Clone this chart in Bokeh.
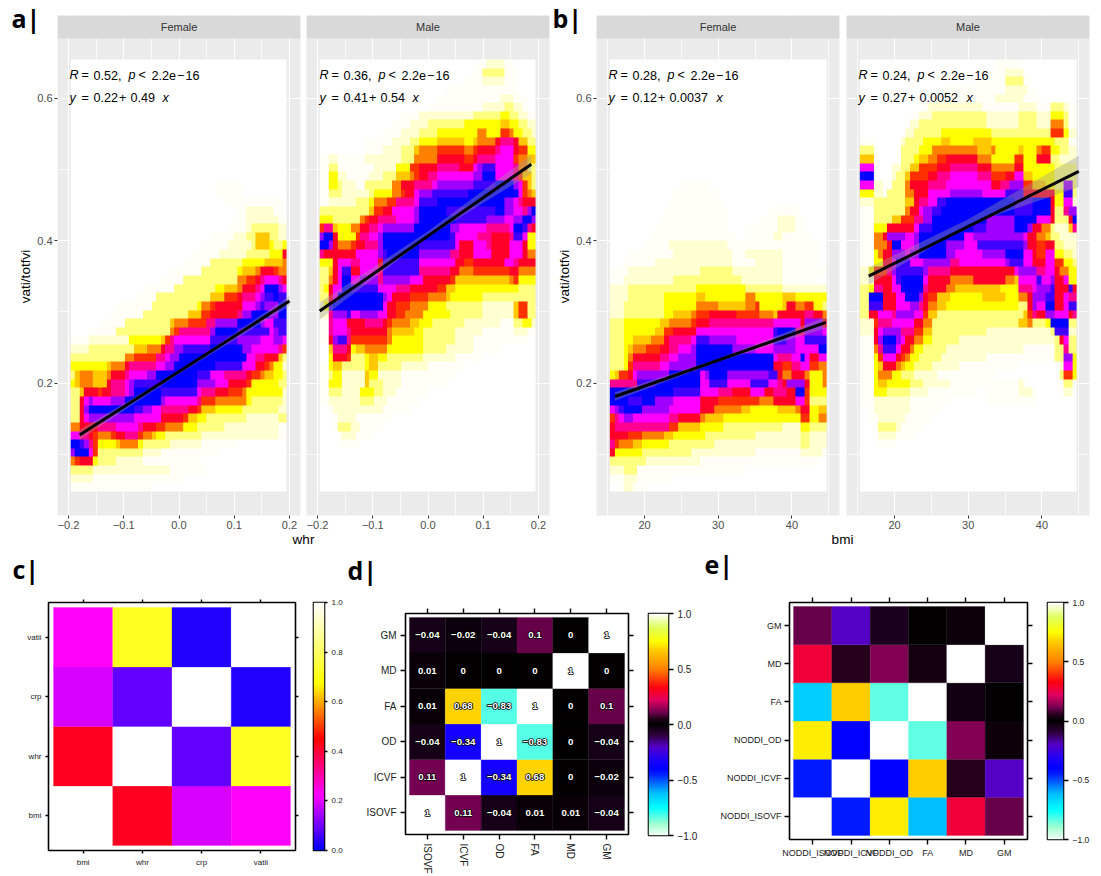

import numpy as np
from math import pi
from bokeh.plotting import figure
from bokeh.layouts import row, column
from bokeh.models import (Range1d, FixedTicker, LinearAxis, LinearColorMapper, Label,
                          BoxAnnotation, ColumnDataSource)
from bokeh.transform import transform
from bokeh.core.properties import value
from bokeh.embed import file_html
from bokeh.resources import INLINE

# ------- density levels of the four panels, read row by row (top to bottom): level:end column ------
WHR_F = ["0:48"]*14 + [
"0:32 1:38 0:48","0:32 1:38 0:48","0:34 1:47 0:48","0:37 1:39 2:45 1:47 0:48","0:36 1:39 2:46 1:48",
"0:35 1:39 2:40 3:46 2:48","0:31 1:36 2:39 3:41 5:44 3:46 2:48","0:29 1:35 2:40 3:41 5:44 4:45 3:47 4:48",
"0:27 1:33 2:39 3:44 4:47 8:48","0:25 1:31 3:38 4:43 5:47 6:48",
"0:22 1:29 3:37 4:38 5:41 6:42 8:45 7:46 6:48","0:20 1:25 3:37 6:39 7:41 8:42 9:43 a:46 9:47 8:48",
"0:16 1:23 3:32 4:34 5:37 6:38 8:41 9:42 a:43 d:46 b:47 a:48","0:14 1:19 3:31 5:34 7:37 8:38 9:41 a:42 b:43 c:45 d:46 c:48",
"0:10 1:18 3:28 4:29 6:31 7:32 8:38 a:41 b:42 c:43 b:46 d:48","0:9 1:16 3:26 5:29 7:31 8:37 9:38 b:40 d:44 b:46 d:48",
"0:7 1:12 3:22 5:23 6:26 7:30 9:32 b:37 d:42 b:43 a:45 c:48","0:4 1:10 3:22 6:23 7:24 9:31 b:32 d:37 c:44 a:45 b:46 c:48",
"1:4 2:13 4:20 5:21 7:22 9:23 a:31 c:37 b:42 a:45 b:47 a:48","2:4 3:14 5:17 6:20 8:21 9:23 b:25 c:31 d:38 b:40 a:46 9:47 7:48",
"3:12 6:14 7:19 9:21 a:22 b:24 d:39 a:41 9:43 8:46 5:47 3:48","4:8 5:9 6:12 8:13 9:19 a:21 b:23 d:32 c:38 a:41 8:43 7:44 6:45 4:47 2:48",
"3:1 5:2 6:5 5:8 6:9 8:12 9:13 a:17 b:19 d:28 c:31 a:34 9:39 8:40 7:42 6:43 5:45 4:47 3:48",
"4:1 5:2 6:5 5:8 8:9 9:12 a:13 b:14 c:20 d:28 b:32 a:35 8:39 7:40 4:46 3:48",
"3:2 5:3 8:6 7:7 8:9 9:12 a:13 b:14 d:20 c:28 a:29 9:32 8:35 7:38 6:39 4:47 2:48",
"3:2 8:3 a:4 b:5 a:9 b:12 d:20 b:21 a:28 9:29 7:32 6:39 4:40 3:47 2:48",
"3:2 8:3 b:4 d:14 c:16 b:18 a:20 9:26 8:28 7:29 5:32 4:38 3:46 2:48",
"3:2 8:3 a:4 b:14 a:20 8:25 7:26 5:28 4:30 3:39 2:46 3:48",
"6:2 8:6 9:10 a:15 9:16 8:19 7:21 6:25 4:28 3:34 2:46 1:48",
"a:2 9:4 8:5 7:6 6:9 7:10 8:12 9:15 7:16 6:18 5:19 4:21 3:29 2:46 1:48",
"d:2 c:3 b:4 9:5 7:6 4:10 5:11 6:15 4:16 3:22 2:29 1:37 0:48","b:1 d:4 a:5 7:6 3:16 2:20 1:33 0:48",
"6:1 7:2 8:5 4:6 3:10 2:16 1:29 0:48","3:5 2:22 1:30 0:48","2:5 1:25 0:48","1:18 0:48"]

WHR_M = [
"0:35 1:37 2:41 1:43 0:48","0:34 1:36 3:41 1:44 0:48","0:32 1:36 2:41 1:44 0:48","0:28 1:44 0:48","0:26 1:40 2:43 1:46 0:48",
"0:24 1:36 2:41 3:43 2:45 1:46 0:48","0:18 1:22 2:34 3:40 4:42 3:44 2:46 1:48","0:16 1:20 2:24 3:32 4:40 5:42 4:44 3:46 2:48",
"0:14 1:18 2:22 3:26 4:35 6:37 4:40 7:42 6:43 4:45 3:47 2:48","0:10 1:16 2:20 3:22 4:26 5:32 4:34 5:35 6:39 8:40 9:43 8:44 5:46 3:48",
"0:10 1:14 2:18 3:21 5:22 6:26 7:32 6:34 7:35 8:39 9:40 a:43 8:44 7:46 4:48","1:2 2:4 1:10 2:18 3:21 6:26 8:32 7:34 8:35 9:39 a:43 7:44 6:46 5:48",
"1:2 3:4 1:12 2:17 4:20 7:22 8:26 9:31 8:34 a:35 b:36 c:39 a:43 9:44 6:46 3:48","1:2 4:4 2:6 1:11 2:14 3:17 5:20 6:21 7:22 8:24 9:26 a:34 b:36 d:39 a:43 9:44 7:45 5:47 3:48",
"1:2 4:4 3:5 2:8 1:10 3:16 6:18 8:21 9:25 a:26 b:34 c:39 d:43 b:44 a:45 7:46 5:47 3:48","1:2 3:5 2:11 3:12 4:16 6:18 7:19 8:21 a:22 b:25 c:33 d:44 a:45 7:46 6:47 5:48",
"1:2 2:8 3:11 4:12 6:15 7:17 9:21 a:22 c:26 d:41 b:43 a:44 9:45 8:48","3:11 5:12 7:14 8:16 a:21 b:22 d:28 c:39 d:41 b:43 a:45 9:46 b:47 d:48",
"4:3 3:9 6:10 7:11 8:13 9:17 a:21 b:22 d:30 c:37 b:41 a:43 b:45 d:47 b:48","7:1 9:3 5:4 4:7 6:9 8:11 9:13 a:14 b:21 d:29 b:31 a:37 9:42 a:43 d:45 c:46 9:47 8:48",
"b:1 d:3 8:4 4:8 7:9 9:11 a:13 b:14 d:29 c:30 a:35 9:38 8:42 9:43 c:45 a:46 4:48","d:2 b:3 8:4 6:7 7:8 8:10 9:13 b:14 d:22 c:30 a:31 8:34 a:37 9:38 8:42 a:45 8:46 4:48",
"9:1 8:8 a:13 b:14 c:15 d:22 b:29 9:31 8:34 a:38 8:42 a:45 8:46 6:48","4:3 8:4 a:7 9:9 a:13 8:14 c:22 a:30 8:32 7:34 8:41 a:43 9:44 8:48",
"3:2 5:3 8:4 a:5 c:7 8:9 a:13 9:14 c:22 9:29 8:31 6:34 7:42 8:44 6:48","3:2 6:3 8:4 a:5 d:7 a:9 b:13 9:14 b:20 a:23 8:29 7:30 5:42 6:43 7:44 4:48",
"3:1 4:2 8:3 a:5 d:7 c:13 a:17 9:20 8:26 7:28 5:30 4:44 3:48","3:2 8:3 a:4 d:14 b:15 a:16 8:20 7:24 6:28 5:29 4:36 3:48",
"2:1 4:2 c:3 d:14 a:15 8:17 7:20 6:24 4:28 3:36 2:43 5:44 7:46 3:48","2:2 9:3 b:6 c:7 a:9 b:13 a:15 8:17 7:19 6:23 4:29 3:36 2:43 5:44 7:46 3:48",
"1:2 9:3 a:6 8:10 9:14 8:15 7:16 6:20 5:22 4:25 3:32 2:40 1:43 3:45 4:47 2:48","1:2 9:3 a:6 9:7 8:15 6:16 5:21 4:23 3:30 2:36 1:43 2:46 1:48",
"1:2 8:3 b:4 c:6 9:7 7:15 6:16 4:23 3:30 2:34 1:46 0:48","0:2 5:3 9:6 8:7 4:8 5:10 6:15 4:23 3:28 2:34 1:40 0:48",
"0:2 4:3 8:6 7:7 3:10 4:11 5:13 4:15 3:23 2:30 1:36 0:48","1:2 4:3 5:5 3:10 4:11 5:13 3:18 2:24 1:32 0:48",
"1:2 3:3 4:5 2:10 5:11 4:13 2:18 1:30 0:48","1:2 4:5 2:10 5:11 3:14 2:18 1:28 0:48","1:2 3:5 2:9 4:12 3:14 2:17 1:24 0:48",
"1:2 2:9 3:12 2:15 1:22 0:48","0:2 1:3 2:14 1:20 0:48","0:3 1:4 2:8 1:16 0:48","0:3 1:4 3:7 2:9 1:14 0:48","0:4 1:5 2:8 1:12 0:48","0:4 1:9 0:48",
"0:48","0:48","0:48","0:48","0:48"]

BMI_F = ["0:48"]*14 + [
"0:16 1:22 0:48","0:14 1:24 0:48","0:13 1:25 0:48","0:12 1:26 0:35 1:42 0:48","0:11 1:26 0:33 1:37 2:41 1:43 0:48",
"0:10 1:26 0:30 1:37 2:41 1:43 0:48","0:9 1:28 0:30 1:36 2:38 1:44 0:48","0:8 1:13 2:26 1:46 0:48","0:4 1:14 2:27 1:30 2:38 1:46 0:48",
"0:3 1:10 2:27 1:32 2:38 1:46 0:48","1:4 2:20 3:27 2:38 1:48","1:3 2:14 3:29 2:38 1:46 0:48","2:4 3:19 4:30 3:38 2:48",
"2:4 3:12 4:19 5:21 4:30 6:32 4:38 5:41 4:48","2:3 3:12 4:19 6:24 5:30 6:32 7:33 4:38 5:39 8:41 6:43 7:45 4:47 3:48",
"2:3 3:12 4:14 5:18 6:19 7:22 8:28 7:33 6:36 5:37 8:43 9:45 8:47 6:48","3:3 4:11 5:13 6:18 7:19 8:22 9:36 a:42 8:43 b:47 8:48",
"3:3 4:10 5:12 7:14 8:19 a:36 c:37 d:41 9:43 b:47 a:48","3:3 4:5 5:9 6:12 8:13 9:18 a:19 c:22 b:28 a:36 c:39 b:41 a:43 c:48",
"3:3 4:4 5:5 6:8 7:11 8:13 9:15 a:18 b:19 d:27 b:32 a:36 b:41 a:46 d:48","3:3 4:4 6:5 8:11 9:13 a:15 b:19 d:36 a:37 9:40 a:42 d:43 a:44 8:46 a:48",
"3:3 4:4 7:5 9:11 a:13 b:19 d:36 8:38 7:40 9:42 a:44 7:46 6:48","4:1 5:2 7:4 8:5 a:6 b:13 d:20 a:21 b:22 d:26 b:35 c:37 8:38 6:40 8:43 6:44 4:47 6:48",
"9:6 c:10 d:20 a:22 c:26 a:31 c:35 a:37 9:38 8:39 b:43 8:44 4:47 6:48","d:14 c:20 a:24 9:27 8:31 a:34 8:36 9:39 8:41 d:43 7:44 4:48",
"d:4 c:7 d:10 b:14 a:20 8:24 7:33 6:36 8:41 a:43 7:44 3:48","a:1 b:2 c:3 d:7 b:13 a:20 8:23 6:29 5:31 4:37 5:41 6:42 8:44 4:46 5:48",
"7:1 9:2 a:3 b:5 a:13 9:15 8:20 6:21 5:25 4:42 7:44 4:46 6:48","8:1 9:13 7:15 5:20 4:25 3:38 2:42 4:44 3:48","8:4 7:7 6:12 5:14 4:21 3:32 2:42 3:44 2:48",
"9:1 7:2 6:5 5:7 4:13 3:23 2:42 3:44 2:48","8:1 4:7 3:18 2:32 1:42 2:47 1:48","3:8 2:20 1:46 0:48","2:3 3:6 1:30 0:48","1:3 2:6 1:14 0:48","0:2 1:3 2:5 1:8 0:48"]

BMI_M = [
"0:30 1:36 0:48","0:29 1:32 2:36 1:37 0:48","0:26 1:32 3:36 1:38 0:48","0:18 1:32 2:37 1:39 0:48","0:16 1:30 2:36 1:40 0:48",
"0:14 1:15 2:27 1:35 2:39 1:42 3:45 2:46 1:48","0:12 1:13 2:16 3:28 2:35 3:39 2:42 4:45 3:46 1:48","0:11 2:13 3:28 2:35 3:39 2:42 6:45 3:46 1:48",
"0:10 2:12 3:18 4:29 3:42 7:45 4:46 2:48","1:3 0:9 2:10 3:14 4:18 5:20 4:25 5:29 4:43 3:46 1:48",
"3:3 1:4 0:9 3:13 4:16 6:26 5:29 6:30 4:35 5:36 4:39 6:40 7:42 4:44 3:46 2:48","5:3 1:4 0:9 3:12 4:13 5:15 6:17 7:19 8:26 6:29 4:34 7:36 4:39 8:42 3:44 2:48",
"a:3 1:4 0:7 2:9 3:11 5:13 7:17 8:20 9:26 8:29 6:34 8:36 4:43 3:48","d:3 1:4 0:7 2:8 3:10 5:11 7:15 8:17 9:20 a:26 9:29 7:32 8:34 a:36 5:38 4:43 3:48",
"a:3 2:5 1:7 3:10 6:11 8:15 9:19 a:29 8:31 9:33 b:36 7:38 5:41 4:43 3:45 b:47 3:48","4:3 2:5 1:6 3:10 6:12 8:15 a:20 b:27 a:32 c:36 8:43 4:45 c:47 3:48",
"2:3 3:10 5:12 8:13 9:15 a:17 c:19 d:34 c:38 d:42 8:43 4:45 a:47 2:48","1:3 3:10 6:11 8:13 a:14 b:16 c:18 d:34 c:38 d:42 8:43 3:45 9:46 b:48",
"1:3 3:7 5:9 7:12 9:14 b:16 d:28 b:34 d:39 a:42 8:43 3:46 8:47 d:48","1:3 4:6 8:12 a:13 c:16 d:25 c:28 b:34 d:37 b:38 8:40 6:42 3:43 2:46 5:47 9:48",
"1:3 6:5 8:6 b:10 a:12 b:13 d:23 a:25 b:36 a:37 8:39 6:41 5:42 3:44 2:48","1:3 6:6 8:7 d:9 a:12 b:13 d:19 b:23 a:26 c:36 b:37 8:39 7:41 8:43 3:45 2:48",
"1:3 4:4 6:5 8:7 b:10 a:11 b:13 d:19 b:21 a:27 b:32 d:36 a:38 8:39 7:41 a:43 4:45 3:47 2:48","1:3 4:5 8:7 a:8 c:11 a:14 b:20 9:22 a:32 b:33 c:36 a:38 8:41 a:43 7:45 4:47 3:48",
"2:2 4:3 7:6 9:7 b:8 c:14 b:15 9:20 8:34 a:35 b:39 9:41 a:43 8:44 6:46 4:48","2:3 8:7 a:8 c:9 d:14 a:15 8:20 6:25 8:32 6:34 5:35 a:39 c:40 a:42 b:43 8:45 a:46 4:48",
"3:2 4:3 9:5 8:7 a:9 d:14 9:15 8:19 6:21 5:31 4:35 9:38 a:39 b:42 c:43 8:46 c:47 8:48","3:2 d:5 8:8 a:10 d:13 b:14 8:15 7:17 5:20 4:27 5:32 4:35 6:37 8:38 b:41 c:43 8:45 a:46 9:48",
"3:2 c:5 8:8 a:11 b:13 9:14 8:15 6:17 5:19 4:35 3:37 8:38 b:39 a:41 d:43 8:45 a:46 c:48","3:2 8:4 a:7 9:8 b:12 a:14 7:15 5:17 3:36 5:37 7:38 9:39 8:41 b:43 a:46 8:47 9:48",
"2:3 7:4 9:7 a:12 8:14 6:16 3:35 5:37 6:38 3:41 4:42 d:46 3:48","2:3 8:4 a:5 b:9 9:12 7:14 5:16 3:28 2:42 3:43 c:46 2:48",
"1:3 8:4 b:5 d:8 b:9 a:10 8:12 6:14 4:16 3:22 2:43 3:44 8:45 a:46 3:48","1:3 6:4 9:5 c:8 a:9 8:11 6:12 4:14 3:19 2:36 1:43 3:45 9:46 3:48",
"1:3 4:4 7:5 a:8 8:9 7:10 6:11 4:13 3:18 2:28 1:43 3:45 b:47 4:48","1:3 4:4 5:5 8:8 6:9 5:10 4:12 3:16 2:22 1:35 0:44 2:45 a:47 4:48",
"1:3 4:4 6:7 4:9 3:12 2:17 1:30 0:44 3:45 7:47 4:48","1:3 4:4 5:6 4:11 3:14 2:20 1:35 2:36 1:37 0:45 3:47 1:48","1:3 4:6 3:11 2:15 1:26 0:28 1:35 2:38 1:39 0:45 2:47 0:48",
"1:3 2:11 1:20 0:28 1:39 0:48","0:2 1:3 2:11 1:18 0:48","0:2 1:4 2:10 1:16 0:48","0:3 1:4 3:8 2:9 1:14 0:48","0:4 2:8 1:12 0:48","0:4 1:8 0:48",
"0:48","0:48","0:48","0:48","0:48"]

DENSITY_COLORS = ["#FFFFFF","#FFFFF8","#FFFFD2","#FFFF80","#FFFF00","#FFC800","#FF8000","#FF3000",
                  "#FF0028","#FF0090","#FF00FF","#A000FF","#4000FF","#0000FF"]

# regression lines (x, y) and their ribbons
WHR_F_LINE = ([-0.18, 0.2], [0.127, 0.315]); WHR_F_RIB = ([-0.18, 0.0, 0.2], [0.120, 0.213, 0.308], [0.134, 0.217, 0.322])
WHR_M_LINE = ([-0.196, 0.187], [0.301, 0.507]); WHR_M_RIB = ([-0.196, 0.0, 0.187], [0.289, 0.405, 0.494], [0.313, 0.413, 0.520])
BMI_F_LINE = ([16, 44.6], [0.181, 0.285]); BMI_F_RIB = ([16, 30, 44.6], [0.175, 0.230, 0.277], [0.187, 0.234, 0.293])
BMI_M_LINE = ([16.5, 45], [0.350, 0.497]); BMI_M_RIB = ([16.5, 30, 45], [0.338, 0.422, 0.475], [0.362, 0.430, 0.519])

# correlation matrices (bottom row first)
C_NAMES = ["bmi", "whr", "crp", "vatii"]
C_MATRIX = [[1, 0.42, 0.19, 0.23], [0.42, 1, 0.085, 0.715], [0.19, 0.085, 1, 0.03], [0.23, 0.715, 0.03, 1]]
D_NAMES = ["ISOVF", "ICVF", "OD", "FA", "MD", "GM"]
D_MATRIX = [[1, 0.11, -0.04, 0.01, 0.01, -0.04], [0.11, 1, -0.34, 0.68, 0, -0.02], [-0.04, -0.34, 1, -0.83, 0, -0.04],
            [0.01, 0.68, -0.83, 1, 0, 0.1], [0.01, 0, 0, 0, 1, 0], [-0.04, -0.02, -0.04, 0.1, 0, 1]]
E_NAMES = ["NODDI_ISOVF", "NODDI_ICVF", "NODDI_OD", "FA", "MD", "GM"]
E_MATRIX = [[1, -0.44, 0.72, -0.62, 0.27, 0.1], [-0.44, 1, -0.40, 0.67, 0.05, -0.2], [0.72, -0.40, 1, -0.84, 0.13, 0.02],
            [-0.65, 0.67, -0.84, 1, -0.03, 0], [0.27, 0.05, 0.13, 0.03, 1, -0.04], [0.1, -0.2, -0.05, 0, 0.02, 1]]

FONT = "Liberation Sans"

def hexrgb(h):
    return np.array([int(h[i:i+2], 16) for i in (1, 3, 5)], float)

def ramp(nodes, n=400):
    xs = np.array([a for a, _ in nodes]); cs = np.array([hexrgb(c) for _, c in nodes])
    t = np.linspace(xs[0], xs[-1], n)
    return ["#%02X%02X%02X" % tuple(int(round(np.interp(v, xs, cs[:, k]))) for k in range(3)) for v in t]

RAMP_C = ramp([(0, "#0000FF"), (0.225, "#FF00FF"), (0.45, "#FF0000"), (0.675, "#FFFF00"), (1, "#FFFFFF")])
RAMP_D = ramp([(-1, "#F2FFF6"), (-0.9, "#A0FFD0"), (-0.75, "#00FFFF"), (-0.62, "#00C0FF"), (-0.45, "#0020FF"), (-0.40, "#0000FF"),
               (-0.34, "#1400FF"), (-0.2, "#5500C8"), (-0.1, "#300040"), (-0.03, "#120012"), (0, "#000000"),
               (0.05, "#200018"), (0.11, "#700050"), (0.22, "#E00060"), (0.33, "#FF0010"), (0.5, "#FF8000"),
               (0.68, "#FFD000"), (0.75, "#FFFF00"), (0.88, "#DFFF60"), (1, "#FFFFFF")])

def expand(s, ncol=48):
    out = []
    for tok in s.split():
        lev, end = tok.split(":")
        out += [int(lev, 16)] * (int(end) - len(out))
    return out[:ncol]

def put(p, fr, X, Y, txt, size, **kw):
    kw.setdefault("text_font", FONT)
    kw.setdefault("text_baseline", "middle")
    kw.setdefault("text_color", "black")
    p.add_layout(Label(x=0, y=0, x_units="screen", y_units="screen", x_offset=X - fr[0], y_offset=fr[1] - Y, text=txt,
                       text_font_size=f"{size}px", **kw))

def density_panel(rows, line, rib, width, left, right, x_range, xt, xm, xlabels, raster, title, anno, yaxis):
    top_y, y_per_px = 97.5, 1 / 712.5
    yv = lambda Y: 0.6 + (top_y - Y) * y_per_px
    p = figure(width=width, height=532, min_border_left=left, min_border_right=right, min_border_top=15, min_border_bottom=17,
               x_range=Range1d(*x_range), y_range=Range1d(yv(515), yv(15)), toolbar_location=None, output_backend="svg",
               background_fill_color="#EBEBEB", border_fill_color=None, outline_line_color=None)
    fr = (anno["frame"], 515)
    p.xaxis.ticker = FixedTicker(ticks=xt, minor_ticks=xm)
    p.yaxis.ticker = FixedTicker(ticks=[0.2, 0.4, 0.6], minor_ticks=[0.1, 0.3, 0.5])
    p.xaxis.major_label_overrides = dict(zip(xt, xlabels))
    p.yaxis.major_label_overrides = {0.2: "0.2", 0.4: "0.4", 0.6: "0.6"}
    for ax in (p.xaxis, p.yaxis):
        ax.axis_line_color = None
        ax.major_tick_line_color = "#333333"
        ax.major_tick_in = 0
        ax.major_tick_out = 3
        ax.minor_tick_line_color = None
        ax.major_label_text_color = "#4D4D4D"
        ax.major_label_text_font_size = "11px"
        ax.major_label_text_font = FONT
        ax.major_label_standoff = 1
    p.yaxis.visible = yaxis
    for g in (p.xgrid, p.ygrid):
        g.grid_line_color = "white"
        g.grid_line_width = 1.2
        g.minor_grid_line_color = "white"
        g.minor_grid_line_width = 0.7
    arr = np.array([expand(r) for r in rows])[::-1]
    mapper = LinearColorMapper(palette=DENSITY_COLORS, low=-0.5, high=13.5)
    p.image(image=[arr], x=raster[0], y=yv(491), dw=raster[1] - raster[0], dh=yv(59) - yv(491), color_mapper=mapper)
    p.varea(x=rib[0], y1=rib[1], y2=rib[2], fill_color="#999999", fill_alpha=0.38)
    p.line(x=line[0], y=line[1], line_color="black", line_width=3)
    p.add_layout(BoxAnnotation(bottom=yv(38), top=yv(15), fill_color="#D9D9D9", fill_alpha=1, line_color=None))
    put(p, fr, anno["frame"] + 121.5, 26.5, title, 11, text_align="center", text_color="#333333")
    X0 = anno["x"]
    r, val, yy = anno["line1"], anno["a"], anno["b"]
    fs = 12.6
    put(p, fr, X0, 74.5, "R", fs, text_font_style="italic")
    put(p, fr, X0 + 12, 74.5, "=", fs)
    put(p, fr, X0 + 24, 74.5, r + ",", fs)
    put(p, fr, X0 + 59, 74.5, "p", fs, text_font_style="italic")
    put(p, fr, X0 + 69, 74.5, "<", fs)
    put(p, fr, X0 + 82, 74.5, "2.2e", fs)
    put(p, fr, X0 + 107.5, 74.5, "\u2212", fs)
    put(p, fr, X0 + 116, 74.5, "16", fs)
    put(p, fr, X0, 97, "y", fs, text_font_style="italic")
    put(p, fr, X0 + 12, 97, "=", fs)
    put(p, fr, X0 + 24, 97, val, fs)
    put(p, fr, X0 + 49.5, 97, "+", fs)
    put(p, fr, X0 + 61, 97, yy, fs)
    put(p, fr, X0 + anno["xoff"], 97, "x", fs, text_font_style="italic")
    return p, fr

WT = [-0.2, -0.1, 0.0, 0.1, 0.2]; WM = [-0.15, -0.05, 0.05, 0.15]; WL = ["\u22120.2", "\u22120.1", "0.0", "0.1", "0.2"]
BT = [20, 30, 40]; BM = [15, 25, 35, 45]; BL = ["20", "30", "40"]
XR_W = (-0.2199, 0.2199); XR_B = (13.49, 46.45); RW = (-0.196, 0.1946); RB = (15.3, 44.7)

pa, fa = density_panel(WHR_F, WHR_F_LINE, WHR_F_RIB, 269, 23, 3, XR_W, WT, WM, WL, RW, "Female",
                       dict(frame=57, x=69, line1="0.52", a="0.22", b="0.49", xoff=93), True)
pb, fb = density_panel(WHR_M, WHR_M_LINE, WHR_M_RIB, 247, 3, 1, XR_W, WT, WM, WL, RW, "Male",
                       dict(frame=306, x=319, line1="0.36", a="0.41", b="0.54", xoff=93), False)
pc, fc = density_panel(BMI_F, BMI_F_LINE, BMI_F_RIB, 269, 23, 3, XR_B, BT, BM, BL, RB, "Female",
                       dict(frame=596, x=608, line1="0.28", a="0.12", b="0.0037", xoff=108), True)
pd, fd = density_panel(BMI_M, BMI_M_LINE, BMI_M_RIB, 250, 4, 3, XR_B, BT, BM, BL, RB, "Male",
                       dict(frame=846, x=858, line1="0.24", a="0.27", b="0.0052", xoff=108), False)

def blank_fig(w, h):
    f = figure(width=w, height=h, x_range=Range1d(0, 1), y_range=Range1d(0, 1), toolbar_location=None, output_backend="svg",
               min_border=0, outline_line_color=None, x_axis_location=None, y_axis_location=None)
    f.grid.visible = False
    f.line(x=[0, 1], y=[0, 0], line_alpha=0)
    return f

def letter(p, fr, X, Y, txt):
    put(p, fr, X, Y - 10, txt, 25, text_font="Open Sans", text_font_style="bold", text_baseline="alphabetic")

side_a = blank_fig(30, 532)
letter(side_a, (8, 532), 11, 27, "a|")
put(side_a, (8, 532), 25, 276, "vati/totfvi", 13.5, angle=pi / 2, text_align="center")
side_b = blank_fig(30, 532)
letter(side_b, (550, 532), 552, 27, "b|")
put(side_b, (550, 532), 564, 276, "vati/totfvi", 13.5, angle=pi / 2, text_align="center")

# x axis titles between the facets
xl = blank_fig(1084, 21)
xlf = (8, 553)
put(xl, xlf, 303, 539, "whr", 13.5, text_align="center")
put(xl, xlf, 842, 539, "bmi", 13.5, text_align="center")

def matrix_panel(names, mat, palette, low, high, width, height, left, right, top, bottom, pad, fs, tick, standoff, vertical=False):
    n = len(names)
    p = figure(width=width, height=height, min_border_left=left, min_border_right=right, min_border_top=top, min_border_bottom=bottom,
               x_range=Range1d(0.5 - pad, n + 0.5 + pad), y_range=Range1d(0.5 - pad, n + 0.5 + pad), toolbar_location=None,
               output_backend="svg", outline_line_color="black", outline_line_width=1.6, background_fill_color="white")
    p.grid.visible = False
    xs = [j + 1 for i in range(n) for j in range(n)]
    ys = [i + 1 for i in range(n) for j in range(n)]
    vs = [mat[i][j] for i in range(n) for j in range(n)]
    src = ColumnDataSource(dict(x=xs, y=ys, v=vs))
    m = LinearColorMapper(palette=palette, low=low, high=high)
    p.rect(x="x", y="y", width=1, height=1, source=src, fill_color=transform("v", m), line_color=transform("v", m), line_width=0.3)
    ticks = list(range(1, n + 1))
    lab = {t: names[t - 1] for t in ticks}
    blank = {t: "" for t in ticks}
    p.add_layout(LinearAxis(), "above"); p.add_layout(LinearAxis(), "right")
    for ax, labs in ((p.below[0], lab), (p.left[0], lab), (p.above[0], blank), (p.right[0], blank)):
        ax.ticker = FixedTicker(ticks=ticks)
        ax.major_label_overrides = labs
        ax.major_tick_in = 0
        ax.major_tick_out = tick
        ax.major_tick_line_width = 1.4
        ax.major_tick_line_color = "black"
        ax.axis_line_color = None
        ax.minor_tick_line_color = None
        ax.major_label_text_font = FONT
        ax.major_label_text_font_size = f"{fs}px"
        ax.major_label_text_color = "#222222"
        ax.major_label_standoff = standoff
    if vertical:
        p.below[0].major_label_orientation = "vertical"
    return p, src

def colour_bar(palette, low, high, ticks, labels, width, left, right, top, bottom, fs, tick, standoff):
    p = figure(width=width, height=323, min_border_left=left, min_border_right=right, min_border_top=top, min_border_bottom=bottom,
               x_range=Range1d(0, 1), y_range=Range1d(low, high), toolbar_location=None, output_backend="svg",
               x_axis_location=None, y_axis_location="right", outline_line_color="black", outline_line_width=1.6)
    p.grid.visible = False
    grad = np.linspace(low, high, len(palette))[:, None]
    p.image(image=[grad], x=0, y=low, dw=1, dh=high - low, color_mapper=LinearColorMapper(palette=palette, low=low, high=high))
    ax = p.right[0]
    ax.ticker = FixedTicker(ticks=ticks)
    ax.major_label_overrides = dict(zip(ticks, labels))
    ax.major_tick_in = 0
    ax.major_tick_out = tick
    ax.major_tick_line_width = 1.4
    ax.major_tick_line_color = "black"
    ax.axis_line_color = None
    ax.minor_tick_line_color = None
    ax.major_label_text_font = FONT
    ax.major_label_text_font_size = f"{fs}px"
    ax.major_label_text_color = "#222222"
    ax.major_label_standoff = standoff
    return p

HEAD = 41  # height of the strip that carries the panel letter
p_c, _ = matrix_panel(C_NAMES, C_MATRIX, RAMP_C, 0, 1, 298, 323 - HEAD, 40, 11, 49 - HEAD, 26, 0.085, 8, 3, 4)
bar_c = colour_bar(RAMP_C, 0, 1, [0, 0.2, 0.4, 0.6, 0.8, 1.0], ["0.0", "0.2", "0.4", "0.6", "0.8", "1.0"], 39, 7, 18, 49, 26, 8, 3, 4)
p_d, src_d = matrix_panel(D_NAMES, D_MATRIX, RAMP_D, -1, 1, 295, 323 - HEAD, 60, 12, 60 - HEAD, 41, 0.11, 10, 5, 4, vertical=True)
src_d.data["t"] = [f"{D_MATRIX[i][j]:g}".replace("-", "\u2212") for i in range(6) for j in range(6)]
p_d.text(x="x", y="y", text="t", source=src_d, text_color="black", text_outline_color="black", text_font=value(FONT),
         text_font_style="bold", text_font_size="9.6px", text_align="center", text_baseline="middle")
p_d.text(x="x", y="y", text="t", source=src_d, text_color="white", text_font=value(FONT),
         text_font_style="bold", text_font_size="9.6px", text_align="center", text_baseline="middle")
bar_d = colour_bar(RAMP_D, -1, 1, [-1, -0.5, 0, 0.5, 1], ["\u22121.0", "\u22120.5", "0.0", "0.5", "1.0"], 63, 8, 35, 60, 41, 10, 5, 4)
p_e, _ = matrix_panel(E_NAMES, E_MATRIX, RAMP_D, -1, 1, 337, 323 - HEAD, 86, 13, 49 - HEAD, 37, 0.105, 9, 5, 3)
bar_e = colour_bar(RAMP_D, -1, 1, [-1, -0.5, 0, 0.5, 1], ["\u22121.0", "\u22120.5", "0.0", "0.5", "1.0"], 52, 7, 29, 49, 37, 8.5, 5, 4)

head_c = blank_fig(298, HEAD); letter(head_c, (8, 553 + HEAD), 12, 578, "c|")
head_d = blank_fig(295, HEAD); letter(head_d, (345, 553 + HEAD), 347, 579, "d|")
head_e = blank_fig(337, HEAD); letter(head_e, (703, 553 + HEAD), 704, 573, "e|")

# the two left panels overlap their side strips by a few pixels, so the letters keep their full width
top = row(column(side_a), column(pa, margin=(0, 0, 0, -4)), column(pb),
          column(side_b), column(pc, margin=(0, 0, 0, -7)), column(pd))
bottom = row(column(column(head_c), column(p_c)), column(bar_c),
             column(column(head_d), column(p_d)), column(bar_d),
             column(column(head_e), column(p_e)), column(bar_e))
page = column(top, xl, bottom, margin=(0, 0, 0, 8))
open("out.html", "w").write(file_html(page, INLINE))
